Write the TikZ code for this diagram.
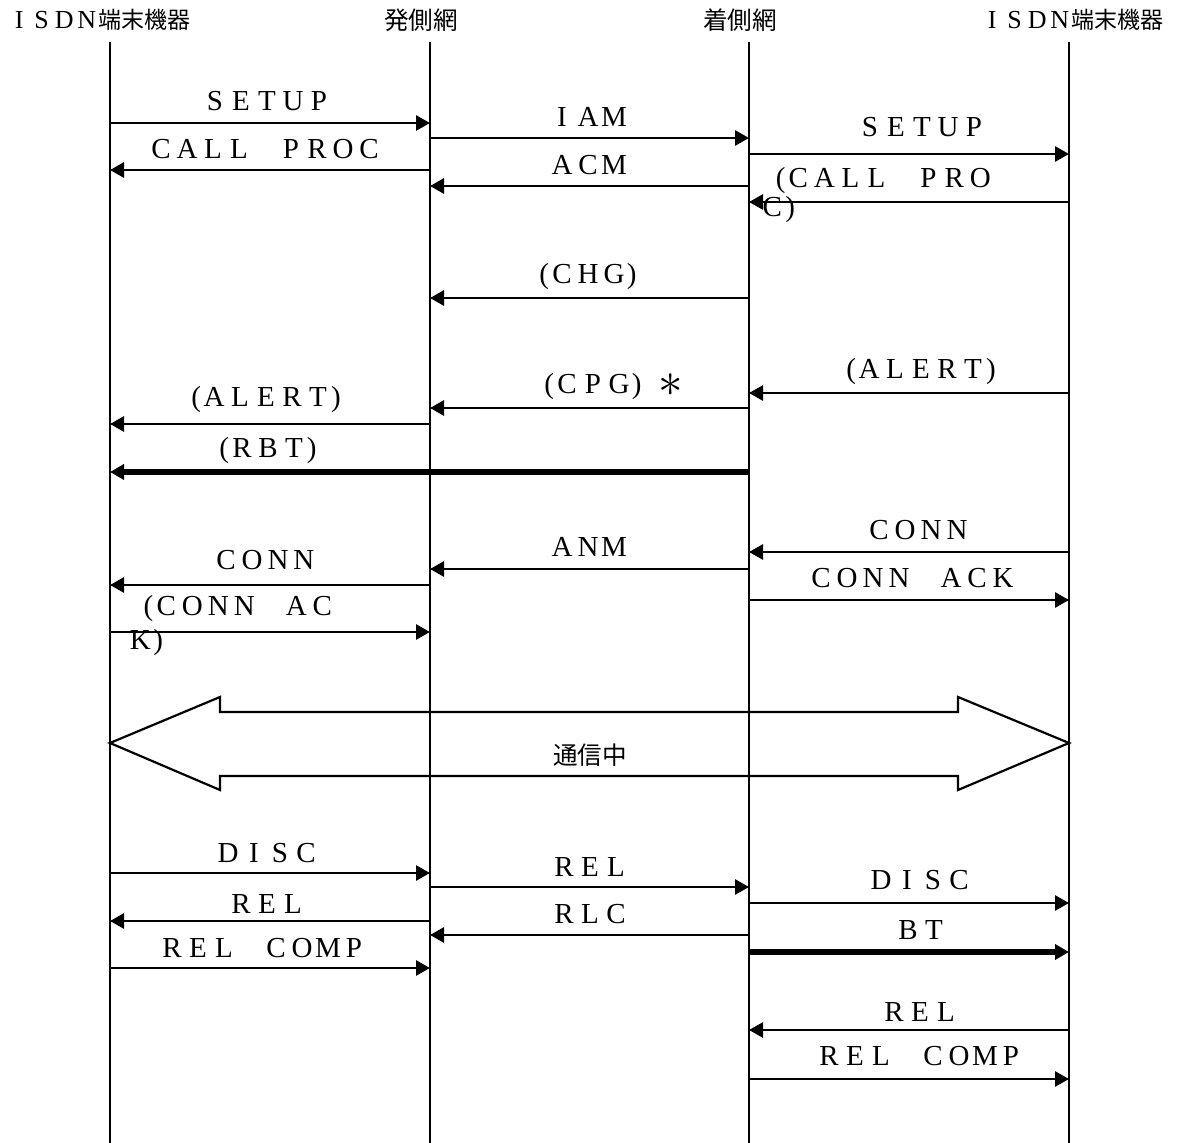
\documentclass[tikz,border=0pt]{standalone}
\usepackage{fontspec}
\setmainfont{Liberation Serif}
\newfontfamily\cjk{Noto Sans CJK JP}
\usetikzlibrary{arrows.meta}

\newlength{\fwpitch}
\setlength{\fwpitch}{13pt}
% each letter in a full-width cell
\ExplSyntaxOn
\cs_generate_variant:Nn \tl_map_inline:nn {o}
\NewDocumentCommand\fw{O{\fwpitch}m}
 {
  \tl_map_inline:on {#2}
   {
    \str_case:nnF {##1}
     {
      {(}{\makebox[#1][r]{(}}
      {)}{\makebox[#1][l]{)}}
      {*}{\makebox[#1]{\raisebox{-1.5pt}{\scalebox{1.7}{$\ast$}}}}
     }
     {\makebox[#1]{##1}}
   }
 }
\ExplSyntaxOff

\begin{document}
\begin{tikzpicture}[
      x=0.5pt, y=-0.5pt,
      life/.style={line width=1.1pt},
      arr/.style={line width=1.4pt, -{Triangle[length=7pt,width=7.5pt]}},
      thick arr/.style={line width=2.7pt, -{Triangle[length=7pt,width=7.5pt]}},
      lbl/.style={inner sep=0pt, font=\fontsize{14.5}{16}\selectfont},
      head/.style={inner sep=0pt, font=\fontsize{13}{15}\selectfont},
      kan/.style={inner sep=0pt, font=\cjk\fontsize{12.3}{14}\selectfont},
      talk/.style={line width=1.1pt}
    ]
    \useasboundingbox (0,0) rectangle (1189,1143);

    % headers and lifelines
    \node[head] (hdA) at (99,20) {\fw[11.3pt]{ISDN}{\cjk\fontsize{11.5}{13}\selectfont 端末機器}};
    \node[kan] (hdB) at (421,20) {発側網};
    \node[kan] (hdC) at (740,20) {着側網};
    \node[head] (hdD) at (1072,20) {\fw[11.3pt]{ISDN}{\cjk\fontsize{11.5}{13}\selectfont 端末機器}};

    \foreach \ln/\x in {A/110, B/430, C/749, D/1069} {
      \coordinate (top\ln) at (\x,42);
      \coordinate (bot\ln) at (\x,1143);
      \draw[life] (top\ln) -- (bot\ln);
    }

    % messages
    \foreach \n/\xa/\xb/\y/\lx/\ly/\txt in {
        1/110/430/123/267/101/SETUP,
        2/430/110/170/265/149/CALL~PROC,
        3/430/749/138/588/117/IAM,
        4/749/430/186/588/165/ACM,
        5/749/1069/154/922/127/SETUP,
        6/749/430/298/588/277/(CHG),
        7/749/430/408/606/387/(CPG)*,
        8/1069/749/393/921/372/(ALERT),
        9/430/110/424/266/400/(ALERT),
        10/749/430/569/588/547/ANM,
        11/1069/749/552/918/530/CONN,
        12/749/1069/600/912/578/CONN~ACK,
        13/430/110/585/265/560/CONN,
        14/110/430/873/267/853/DISC,
        15/430/749/887/590/867/REL,
        16/749/1069/903/920/880/DISC,
        17/430/110/921/267/904/REL,
        18/749/430/935/590/914/RLC,
        19/110/430/968/263/948/REL~COMP,
        20/1069/749/1030/920/1012/REL,
        21/749/1069/1079/920/1056/REL~COMP} {
      \coordinate (s\n) at (\xa,\y);
      \coordinate (e\n) at (\xb,\y);
      \draw[arr] (s\n) -- (e\n);
      \node[lbl] (l\n) at (\lx,\ly) {\fw{\txt}};
    }

    % tones
    \coordinate (sRBT) at (749,472);
    \coordinate (eRBT) at (110,472);
    \draw[thick arr] (sRBT) -- (eRBT);
    \node[lbl] (lRBT) at (268,451) {\fw{(RBT)}};
    \coordinate (sBT) at (749,952);
    \coordinate (eBT) at (1069,952);
    \draw[thick arr] (sBT) -- (eBT);
    \node[lbl] (lBT) at (921,930) {\fw{BT}};

    % wrapped labels
    \coordinate (sCP) at (1069,202);
    \coordinate (eCP) at (749,202);
    \draw[arr] (sCP) -- (eCP);
    \node[lbl, anchor=north west, align=left] (lCP) at (759,167)
      {\fw{(CALL~PRO}\\[-1.5pt]\fw{C)}};
    \coordinate (sCA) at (110,632);
    \coordinate (eCA) at (430,632);
    \draw[arr] (sCA) -- (eCA);
    \node[lbl, anchor=north west, align=left] (lCA) at (127,595)
      {\fw{(CONN~AC}\\[1pt]\fw{K)}};

    % in-call double arrow
    \draw[talk] (110,743) -- (220,697) -- (220,712) -- (958,712) -- (958,697)
      -- (1069,743) -- (958,790) -- (958,776) -- (220,776) -- (220,790) -- cycle;
    \node[kan] (talking) at (590,755) {通信中};

\end{tikzpicture}
\end{document}
